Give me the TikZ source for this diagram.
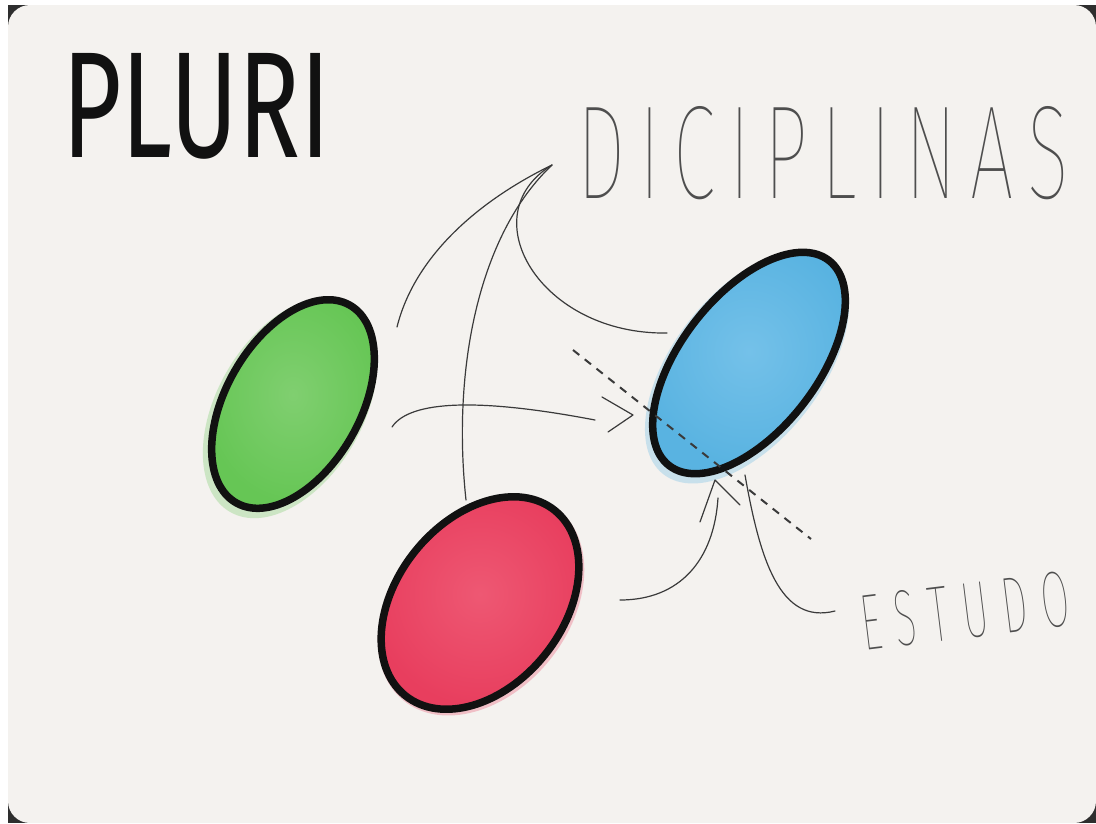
\documentclass[tikz,border=0pt]{standalone}
\usepackage{fontspec}
\usepackage{graphicx}
\usetikzlibrary{shapes.geometric}
\newcommand\sethair[1]{\newfontfamily\hairfont{#1}[LetterSpace=18]\newfontfamily\hairwide{#1}[LetterSpace=34]}
\IfFontExistsTF{Fira Sans Thin}{\sethair{Fira Sans Thin}}{%
 \IfFontExistsTF{Fira Sans ExtraLight}{\sethair{Fira Sans ExtraLight}}{%
  \IfFontExistsTF{Lato Hairline}{\sethair{Lato Hairline}}{%
   \IfFontExistsTF{Lato Thin}{\sethair{Lato Thin}}{%
    \sethair{Fira Sans Light}}}}}
\newfontfamily\plurifont{Fira Sans}
\definecolor{paper}{HTML}{F4F2EF}
\definecolor{cornerdark}{HTML}{2E2E2E}
\definecolor{ink}{HTML}{111111}
\definecolor{pencil}{HTML}{4E4E4E}
\definecolor{lineink}{HTML}{3A3A3A}
\definecolor{gbase}{HTML}{66C655}
\definecolor{glight}{HTML}{80CF70}
\definecolor{bbase}{HTML}{59B3E1}
\definecolor{blight}{HTML}{74C1E9}
\definecolor{rbase}{HTML}{E83E5E}
\definecolor{rlight}{HTML}{EE5873}
\tikzset{
  blob/.style={ellipse, draw=ink, line width=7.5pt, inner sep=0pt},
  halo/.style={fill opacity=.28},
  conn/.style={draw=lineink, line width=1.2pt, line cap=round, line join=round},
  dashline/.style={draw=lineink, line width=2pt, dash pattern=on 8pt off 7pt},
}
\begin{document}
\begin{tikzpicture}[x=1pt,y=1pt]
\useasboundingbox (0,0) rectangle (1096,-823);
% background card
\fill[white] (0,0) rectangle (1096,-823);
\fill[cornerdark] (8,-5) rectangle (1096,-823);
\fill[paper, rounded corners=22pt] (8,-5) rectangle (1096,-823);

% watercolor halos
\fill[gbase, halo, rotate around={-30:(290,-408)}] (290,-408) ellipse [x radius=73, y radius=120];
\fill[bbase, halo, rotate around={-38:(747,-367)}] (747,-367) ellipse [x radius=74, y radius=136];
\fill[rbase, halo, rotate around={-39:(481,-605)}] (481,-605) ellipse [x radius=88, y radius=123];

% ellipses
\node[blob, rotate=-30, minimum width=134pt, minimum height=228pt, inner color=glight, outer color=gbase] (green) at (293,-404) {};
\node[blob, rotate=-38, minimum width=136pt, minimum height=260pt, inner color=blight, outer color=bbase] (blue) at (749,-363) {};
\node[blob, rotate=-39, minimum width=166pt, minimum height=238pt, inner color=rlight, outer color=rbase] (red) at (480,-603) {};

% texts
\node[anchor=south west, inner sep=0pt, text=ink] (pluri) at (62,-160) {\resizebox{268pt}{104pt}{\plurifont PLURI}};
\node[anchor=south west, inner sep=0pt, text=pencil] (disc) at (577,-200) {\resizebox{492pt}{92pt}{\hairfont DICIPLINAS}};
\node[anchor=south west, inner sep=0pt, text=pencil, rotate=7] (estudo) at (864,-652) {\resizebox{210pt}{55pt}{\hairwide ESTUDO}};

% named points
\coordinate (dtip) at (552,-165);
\coordinate (gA) at (397,-327);
\coordinate (rA) at (466,-500);
\coordinate (bA) at (667,-333);
\coordinate (gB) at (392,-427);
\coordinate (gBend) at (595,-420);
\coordinate (hB1) at (602,-397);
\coordinate (hB2) at (633,-415);
\coordinate (hB3) at (608,-432);
\coordinate (dashA) at (573,-350);
\coordinate (dashB) at (811,-539);
\coordinate (rB) at (620,-600);
\coordinate (rBend) at (718,-498);
\coordinate (hF1) at (700,-522);
\coordinate (hF2) at (715,-480);
\coordinate (hF3) at (740,-505);
\coordinate (eA) at (835,-611);
\coordinate (eAend) at (745,-475);

% connectors to DICIPLINAS
\path[conn] (gA) .. controls (415,-255) and (480,-200) .. (dtip);
\path[conn] (rA) .. controls (452,-370) and (478,-235) .. (dtip);
\path[conn] (bA) .. controls (540,-335) and (470,-215) .. (dtip);
% green to blue
\path[conn] (gB) .. controls (410,-400) and (480,-398) .. (gBend);
\path[conn] (hB1) -- (hB2) -- (hB3);
% dashed
\path[dashline] (dashA) -- (dashB);
% red to blue
\path[conn] (rB) .. controls (680,-600) and (714,-560) .. (rBend);
\path[conn] (hF1) -- (hF2) -- (hF3);
% ESTUDO to blue
\path[conn] (eA) .. controls (780,-625) and (760,-560) .. (eAend);
\end{tikzpicture}
\end{document}
